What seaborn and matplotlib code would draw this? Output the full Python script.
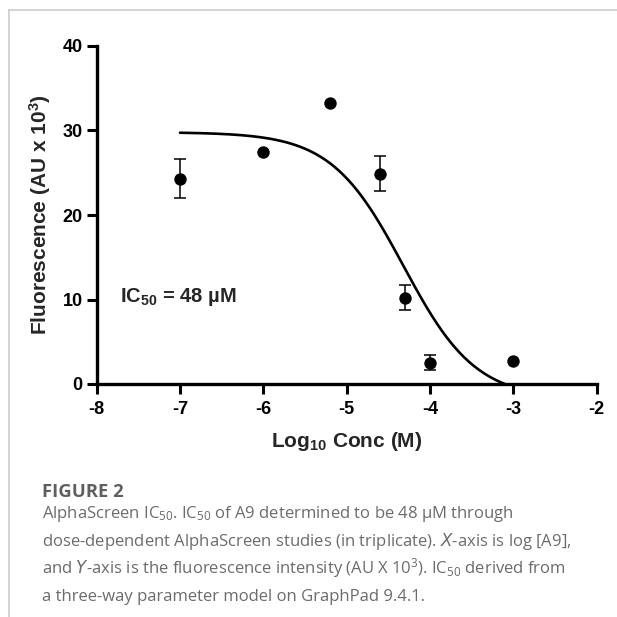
import numpy as np
import pandas as pd
import matplotlib
matplotlib.use('Agg')
import matplotlib.pyplot as plt
from matplotlib.lines import Line2D
import seaborn as sns

sns.set_theme(style='ticks')
plt.rcParams['font.family'] = ['Liberation Sans', 'DejaVu Sans']
plt.rcParams['mathtext.default'] = 'regular'
plt.rcParams['axes.unicode_minus'] = False

# AlphaScreen dose-response (mean values, AU x 10^3)
log_conc = [-7.0, -6.0, -5.2, -4.6, -4.3, -4.0, -3.0]
fluor = [24.3, 27.4, 33.3, 24.9, 10.2, 2.5, 2.7]
# points with visible SD bars
err_x = [-7.0, -4.6, -4.3, -4.0]
err_y = [24.3, 24.9, 10.2, 2.5]
err_sd = [2.3, 2.1, 1.5, 0.9]

# three-parameter fit (GraphPad): top, bottom, IC50
fit_top = 29.8
fit_bottom = -1.8
ic50_molar = 48e-6

caption_lines = [
    r'AlphaScreen IC$_{50}$. IC$_{50}$ of A9 determined to be 48 µM through',
    r'dose-dependent AlphaScreen studies (in triplicate). $\it{X}$-axis is log [A9],',
    r'and $\it{Y}$-axis is the fluorescence intensity (AU X 10$^{3}$). IC$_{50}$ derived from',
    r'a three-way parameter model on GraphPad 9.4.1.',
]

df = pd.DataFrame({'logc': log_conc, 'y': fluor})

log_ic50 = np.log10(ic50_molar)
xfit = np.linspace(-7, -3, 300)
yfit = fit_bottom + (fit_top - fit_bottom) / (1 + 10 ** (xfit - log_ic50))
fit_df = pd.DataFrame({'logc': xfit, 'y': yfit})

W = 617
fig = plt.figure(figsize=(6.17, 6.17), dpi=100)
ax = fig.add_axes([96.7 / W, 1 - 384 / W, (596.5 - 96.7) / W, (384 - 46) / W])

sns.lineplot(data=fit_df, x='logc', y='y', ax=ax, color='black', linewidth=1.9)
ax.errorbar(err_x, err_y, yerr=err_sd, fmt='none', ecolor='black',
            elinewidth=1.1, capsize=4.5, capthick=1.1, zorder=3)
sns.scatterplot(data=df, x='logc', y='y', ax=ax, color='black', s=80,
                edgecolor='black', linewidth=0, zorder=4)

ax.set_xlim(-8, -2)
ax.set_ylim(0, 40)
ax.set_xticks(range(-8, -1))
ax.set_yticks(range(0, 41, 10))
sns.despine(ax=ax)
for s in ['left', 'bottom']:
    ax.spines[s].set_linewidth(2.4)
    ax.spines[s].set_color('black')
ax.tick_params(width=2.2, length=7, labelsize=13, colors='black')
ax.tick_params(axis='x', pad=5)
ax.tick_params(axis='y', pad=3)
for lab in ax.get_xticklabels() + ax.get_yticklabels():
    lab.set_fontweight('bold')

ax.set_xlabel(r'Log$_{10}$ Conc (M)', fontsize=15, fontweight='bold', labelpad=9)
ax.set_ylabel(r'Fluorescence (AU x 10$^{3}$)', fontsize=15, fontweight='bold', labelpad=7)
ax.text(-7.72, 10.3, r'IC$_{50}$ = 48 µM', fontsize=14.5, fontweight='bold',
        ha='left', va='center')

# frame lines of the page
fig.add_artist(Line2D([9 / W, 1], [1 - 9.5 / W, 1 - 9.5 / W], color='#c8c8c8', linewidth=1.1))
fig.add_artist(Line2D([9 / W, 9 / W], [0, 1 - 9.5 / W], color='#c8c8c8', linewidth=1.1))

cap_font = ['Open Sans', 'DejaVu Sans']
fig.text(42 / W, 1 - 496.7 / W, 'FIGURE 2', fontsize=13.3, fontweight='bold',
         color='#5f5f5f', family=cap_font, va='baseline')
for i, line in enumerate(caption_lines):
    fig.text(42 / W, 1 - (518.3 + 27.7 * i) / W, line, fontsize=12,
             color='#6b6b6b', family=cap_font, va='baseline')

fig.savefig('out.png', dpi=100)
